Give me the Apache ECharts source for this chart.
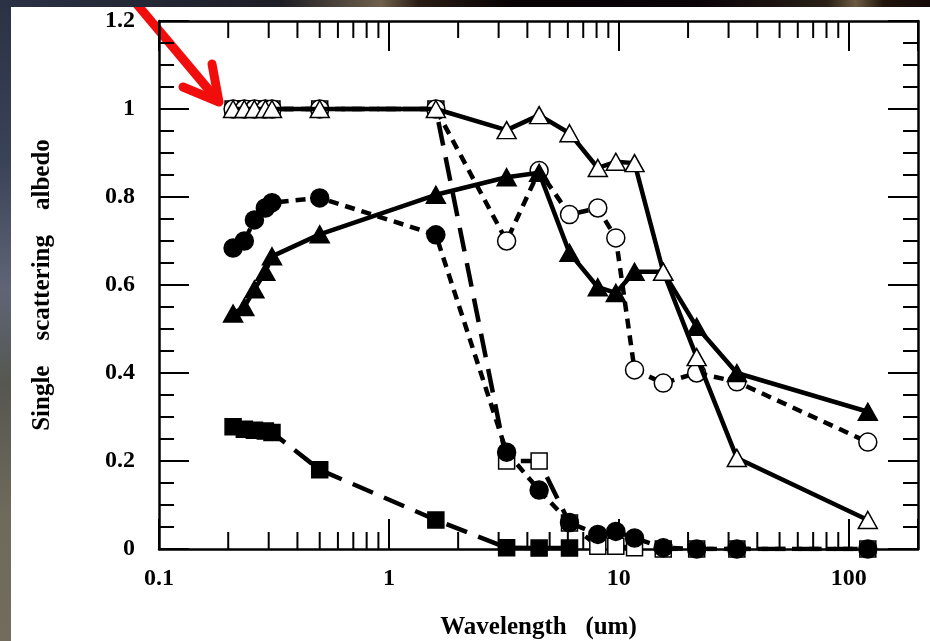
<!DOCTYPE html>
<html>
<head>
<meta charset="utf-8">
<script src="https://cdn.jsdelivr.net/npm/echarts@6/dist/echarts.min.js"></script>
<style>
  html, body { margin: 0; padding: 0; background: #fff; }
  #chart { width: 930px; height: 641px; }
</style>
</head>
<body>
<div id="chart"></div>
<script>
// wavelengths (um), shared by all six curves
const wavelength = [0.21, 0.235, 0.26, 0.29, 0.31, 0.5, 1.6, 3.25, 4.5, 6.1, 8.1, 9.7, 11.7, 15.6, 21.8, 32.6, 121];

// single scattering albedo for each curve
const openTriangle  = [1.0, 1.0, 1.0, 1.0, 1.0, 1.0, 1.0, 0.952, 0.986, 0.945, 0.866, 0.88, 0.877, 0.63, 0.436, 0.207, 0.066];
const filledTriangle = [0.535, 0.55, 0.59, 0.63, 0.665, 0.715, 0.805, 0.845, 0.855, 0.673, 0.595, 0.582, 0.63, 0.63, 0.505, 0.40, 0.312];
const openCircle    = [1.0, 1.0, 1.0, 1.0, 1.0, 1.0, 1.0, 0.70, 0.86, 0.76, 0.775, 0.707, 0.407, 0.377, 0.40, 0.38, 0.243];
const filledCircle  = [0.684, 0.70, 0.748, 0.775, 0.787, 0.798, 0.714, 0.22, 0.134, 0.06, 0.033, 0.04, 0.025, 0.003, 0.0, 0.0, 0.0];
const openSquare    = [1.0, 1.0, 1.0, 1.0, 1.0, 1.0, 1.0, 0.20, 0.20, 0.059, 0.006, 0.006, 0.003, 0.0, 0.0, 0.0, 0.0];
const filledSquare  = [0.278, 0.272, 0.27, 0.268, 0.265, 0.18, 0.066, 0.003, 0.002, 0.002];

// axis ticks
const yTicks = [0, 0.2, 0.4, 0.6, 0.8, 1, 1.2];
const xLabels = [0.1, 1, 10, 100];
const xMinorTicks = [0.2, 0.3, 0.4, 0.5, 0.6, 0.7, 0.8, 0.9,
                     2, 3, 4, 5, 6, 7, 8, 9,
                     20, 30, 40, 50, 60, 70, 80, 90];

const pair = (ys) => ys.map((y, i) => [wavelength[i], y]);

const font = 'Liberation Serif';
const black = '#000';

const lineSeries = (data, symbol, filled, dash, z) => ({
    type: 'line',
    data: pair(data),
    symbol: symbol,
    symbolSize: symbol === 'triangle' ? [19, 17] : (symbol === 'rect' ? 16 : 18),
    showAllSymbol: true,
    z: z,
    lineStyle: { color: black, width: 4.5, type: dash, cap: 'butt' },
    itemStyle: { color: filled ? black : '#fff', borderColor: black, borderWidth: 1.5 },
    emphasis: { disabled: true },
    animation: false
})

const chart = echarts.init(document.getElementById('chart'))

const axisTextStyle = { color: black, fontFamily: font, fontWeight: 'bold', fontSize: 24 }

// shared frame style for the four sides
const frameLine = { onZero: false, lineStyle: { color: black, width: 2.5 } }
const majorTick = { inside: true, length: 30, lineStyle: { color: black, width: 2 } }

chart.setOption({
    backgroundColor: '#fff',
    animation: false,
    grid: { left: 159, right: 12, top: 21, bottom: 92, outerBoundsMode: 'none', containLabel: false },
    xAxis: [
        {
            type: 'log',
            logBase: 10,
            min: 0.1,
            max: 200,
            position: 'bottom',
            name: 'Wavelength   (um)',
            nameLocation: 'middle',
            nameGap: 66,
            nameTextStyle: { color: black, fontFamily: font, fontWeight: 'bold', fontSize: 25 },
            axisLine: frameLine,
            axisTick: majorTick,
            axisLabel: {
                ...axisTextStyle,
                margin: 18,
                formatter: (v) => xLabels.some(t => Math.abs(t - v) / t < 1e-6) ? String(v) : ''
            },
            splitLine: { show: false }
        },
        {
            type: 'log',
            logBase: 10,
            min: 0.1,
            max: 200,
            position: 'top',
            axisLine: frameLine,
            axisTick: majorTick,
            axisLabel: { show: false },
            splitLine: { show: false }
        }
    ],
    yAxis: [
        {
            type: 'value',
            min: yTicks[0],
            max: yTicks[yTicks.length - 1],
            interval: 0.2,
            name: 'Single    scattering    albedo',
            nameLocation: 'middle',
            nameGap: 104,
            nameTextStyle: { color: black, fontFamily: font, fontWeight: 'bold', fontSize: 25 },
            axisLine: frameLine,
            axisTick: majorTick,
            minorTick: { show: true, splitNumber: 4, length: 15, lineStyle: { color: black, width: 2 } },
            axisLabel: { ...axisTextStyle, margin: 24, formatter: (v) => String(+v.toFixed(1)) },
            splitLine: { show: false }
        },
        {
            type: 'value',
            min: yTicks[0],
            max: yTicks[yTicks.length - 1],
            interval: 0.2,
            position: 'right',
            axisLine: frameLine,
            axisTick: majorTick,
            minorTick: { show: true, splitNumber: 4, length: 15, lineStyle: { color: black, width: 2 } },
            axisLabel: { show: false },
            splitLine: { show: false }
        }
    ],
    series: [
        // minor ticks of the log axis (2..9 of each decade), bottom and top
        {
            type: 'custom',
            silent: true,
            clip: false,
            z: 1,
            data: xMinorTicks.map(v => [v, 0]),
            renderItem: function (params, api) {
                const v = api.value(0)
                const b = api.coord([v, yTicks[0]])
                const t = api.coord([v, yTicks[yTicks.length - 1]])
                const st = { stroke: black, lineWidth: 2 }
                return {
                    type: 'group',
                    children: [
                        { type: 'line', shape: { x1: b[0], y1: b[1], x2: b[0], y2: b[1] - 17 }, style: st },
                        { type: 'line', shape: { x1: t[0], y1: t[1], x2: t[0], y2: t[1] + 17 }, style: st }
                    ]
                }
            }
        },
        lineSeries(filledSquare, 'rect', true, [22, 12], 2),
        lineSeries(openSquare, 'rect', false, [24, 12], 3),
        lineSeries(filledCircle, 'circle', true, [10, 7], 4),
        lineSeries(openCircle, 'circle', false, [10, 7], 5),
        lineSeries(filledTriangle, 'triangle', true, 'solid', 6),
        lineSeries(openTriangle, 'triangle', false, 'solid', 7)
    ],
    graphic: [
        // dark slide border on the left and top
        {
            type: 'rect', z: 100, silent: true,
            shape: { x: 0, y: 0, width: 11, height: 641 },
            style: {
                fill: new echarts.graphic.LinearGradient(0, 0, 0, 1, [
                    { offset: 0, color: '#2b3245' },
                    { offset: 0.25, color: '#3a4258' },
                    { offset: 0.45, color: '#5f6576' },
                    { offset: 0.6, color: '#565750' },
                    { offset: 0.8, color: '#6e6a5c' },
                    { offset: 1, color: '#736c5e' }
                ])
            }
        },
        {
            type: 'rect', z: 100, silent: true,
            shape: { x: 0, y: 0, width: 930, height: 7 },
            style: {
                fill: new echarts.graphic.LinearGradient(0, 0, 1, 0, [
                    { offset: 0, color: '#2b3245' },
                    { offset: 0.3, color: '#1d1d25' },
                    { offset: 0.41, color: '#6f604c' },
                    { offset: 0.45, color: '#2a1c14' },
                    { offset: 0.55, color: '#080305' },
                    { offset: 0.75, color: '#0a0308' },
                    { offset: 0.89, color: '#2a2018' },
                    { offset: 0.92, color: '#6b5a42' },
                    { offset: 0.95, color: '#20140c' },
                    { offset: 1, color: '#140a08' }
                ])
            }
        },
        // red arrow pointing at the first point
        {
            type: 'group', z: 101, silent: true,
            children: [
                { type: 'line', shape: { x1: 130, y1: -4, x2: 214, y2: 96 }, style: { stroke: '#f20d0d', lineWidth: 9 } },
                {
                    type: 'polyline',
                    shape: { points: [[183, 87], [219, 102], [212, 64]] },
                    style: { stroke: '#f20d0d', lineWidth: 9, fill: null, lineJoin: 'round', lineCap: 'round' }
                }
            ]
        }
    ]
})
</script>
</body>
</html>
